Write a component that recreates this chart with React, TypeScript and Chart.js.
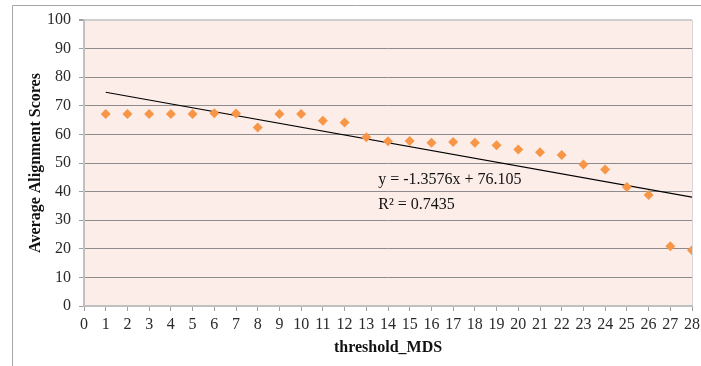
import React, { useEffect, useRef } from "react";
import { Chart, registerables } from "chart.js";

Chart.register(...registerables);

const X_VALUES = [1, 2, 3, 4, 5, 6, 7, 8, 9, 10, 11, 12, 13, 14, 15, 16, 17, 18, 19, 20, 21, 22, 23, 24, 25, 26, 27, 28];
const SCORES = [67.1, 67.1, 67.1, 67.1, 67.1, 67.4, 67.3, 62.4, 67.1, 67.1, 64.8, 64.2, 59.0, 57.6, 57.7, 57.1, 57.3, 57.1, 56.2, 54.7, 53.8, 52.8, 49.5, 47.7, 41.6, 38.8, 20.9, 19.5];
const TREND_SLOPE = -1.3576;
const TREND_INTERCEPT = 76.105;
const TREND_X = [1, 28];
const EQUATION_LABEL = "y = -1.3576x + 76.105";
const R2_LABEL = "R\u00B2 = 0.7435";
const X_TITLE = "threshold_MDS";
const Y_TITLE = "Average Alignment Scores";

const FONT = "'Liberation Serif', 'Times New Roman', serif";

export default function App() {
  const ref = useRef<HTMLCanvasElement | null>(null);

  useEffect(() => {
    document.body.style.margin = "0";
    const canvas = ref.current;
    if (!canvas) return;

    const bgPlugin = {
      id: "bgPlugin",
      beforeDraw(chart: any) {
        const { ctx, chartArea } = chart;
        ctx.save();
        ctx.fillStyle = "#ffffff";
        ctx.fillRect(0, 0, chart.width, chart.height);
        // outer frame
        ctx.strokeStyle = "#a6a6a6";
        ctx.lineWidth = 1;
        ctx.beginPath();
        ctx.moveTo(12.5, chart.height);
        ctx.lineTo(12.5, 5.5);
        ctx.lineTo(chart.width, 5.5);
        ctx.stroke();
        ctx.fillStyle = "#fcede8";
        ctx.fillRect(chartArea.left, chartArea.top, chartArea.right - chartArea.left, chartArea.bottom - chartArea.top);
        ctx.strokeStyle = "#d8d8d8";
        ctx.beginPath();
        ctx.moveTo(chartArea.right + 0.5, chartArea.top);
        ctx.lineTo(chartArea.right + 0.5, chartArea.bottom);
        ctx.stroke();
        ctx.restore();
      },
      afterDraw(chart: any) {
        const { ctx } = chart;
        const xs = chart.scales.x;
        const ys = chart.scales.y;
        ctx.save();
        ctx.fillStyle = "#111111";
        ctx.font = `16px ${FONT}`;
        ctx.textBaseline = "middle";
        ctx.textAlign = "left";
        ctx.fillText(EQUATION_LABEL, xs.getPixelForValue(13.55), ys.getPixelForValue(44.0));
        ctx.fillText(R2_LABEL, xs.getPixelForValue(13.55), ys.getPixelForValue(35.3));
        ctx.restore();
      },
    };

    const chart = new Chart(canvas, {
      type: "scatter",
      data: {
        datasets: [
          {
            label: "scores",
            data: X_VALUES.map((x, i) => ({ x, y: SCORES[i] })),
            pointStyle: "rectRot",
            pointRadius: 5,
            pointBackgroundColor: "#f79646",
            pointBorderColor: "#f79646",
            pointBorderWidth: 0,
            showLine: false,
          },
          {
            label: "trend",
            data: TREND_X.map((x) => ({ x, y: TREND_SLOPE * x + TREND_INTERCEPT })),
            showLine: true,
            borderColor: "#000000",
            borderWidth: 1.2,
            pointRadius: 0,
          },
        ],
      },
      options: {
        animation: false,
        responsive: false,
        devicePixelRatio: 1,
        layout: { padding: { left: 0, top: 20, right: 9, bottom: 0 } },
        plugins: { legend: { display: false }, tooltip: { enabled: false } },
        scales: {
          x: {
            type: "linear",
            min: 0,
            max: 28,
            afterFit(scale: any) {
              scale.height = 60;
              scale.paddingRight = 0;
            },
            ticks: {
              stepSize: 1,
              autoSkip: false,
              maxRotation: 0,
              padding: 4,
              color: "#2a2a2a",
              font: { family: FONT, size: 16 },
            },
            grid: {
              drawOnChartArea: false,
              drawTicks: true,
              tickLength: 5,
              color: "#a0a0a0",
            },
            border: { color: "#c0c0c0", width: 2 },
            title: {
              display: true,
              text: X_TITLE,
              color: "#111111",
              font: { family: FONT, size: 16, weight: "bold" },
              padding: { top: 4, bottom: 9 },
            },
          },
          y: {
            min: 0,
            max: 100,
            afterFit(scale: any) {
              scale.width = 84;
            },
            ticks: {
              stepSize: 10,
              padding: 8,
              color: "#2a2a2a",
              font: { family: FONT, size: 16 },
            },
            grid: {
              color: (c: any) => (c.tick && c.tick.value === 100 ? "#cfcfcf" : c.tick && c.tick.value === 0 ? "#c0c0c0" : "#8c8c8c"),
              tickColor: "#a0a0a0",
              tickLength: 5,
              lineWidth: (c: any) => (c.tick && c.tick.value === 100 ? 2 : 1),
            },
            border: { color: "#c0c0c0", width: 2 },
            title: {
              display: true,
              text: Y_TITLE,
              color: "#111111",
              font: { family: FONT, size: 16, weight: "bold" },
              padding: { top: 26, bottom: 0 },
            },
          },
        },
      },
      plugins: [bgPlugin],
    });

    return () => chart.destroy();
  }, []);

  return (
    <div style={{ position: "absolute", left: 0, top: 0, width: 701, height: 366 }}>
      <canvas ref={ref} width={701} height={366} style={{ width: 701, height: 366, display: "block" }} />
    </div>
  );
}
